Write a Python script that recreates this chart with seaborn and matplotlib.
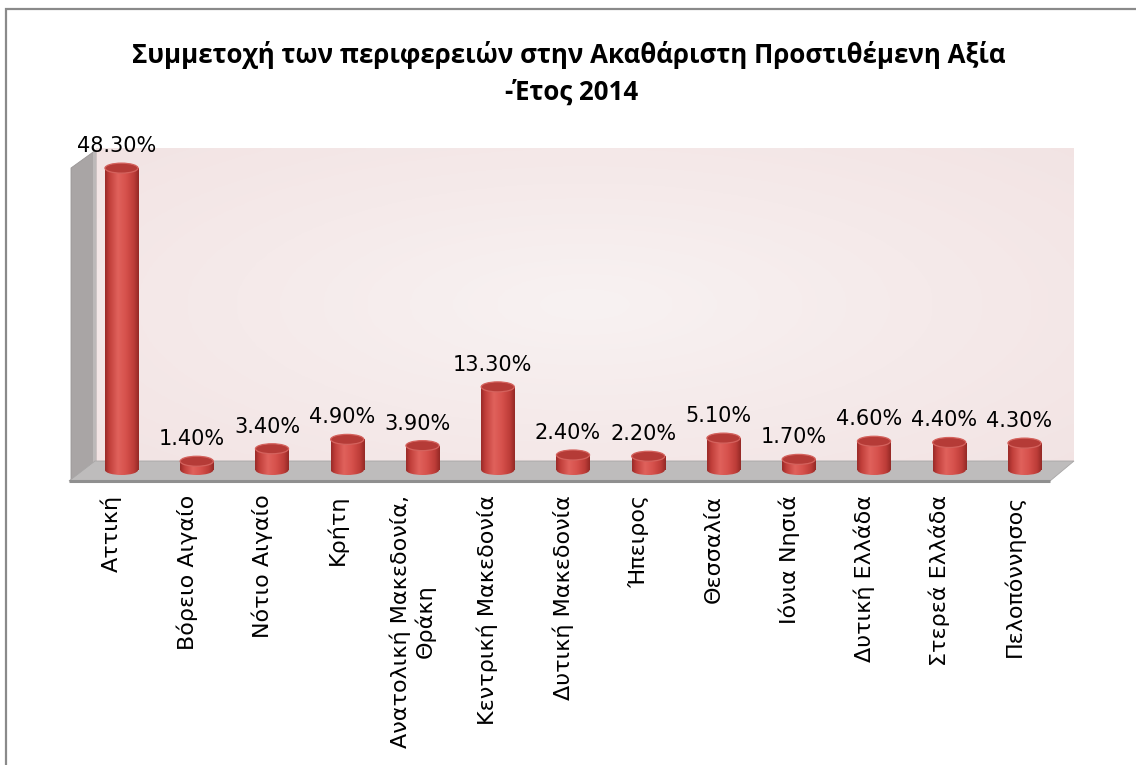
import numpy as np
import matplotlib
matplotlib.use("Agg")
import matplotlib.pyplot as plt
import seaborn as sns
from matplotlib.patches import Polygon, Ellipse, Rectangle
from matplotlib.colors import LinearSegmentedColormap
from matplotlib.transforms import ScaledTranslation

# ---- data -------------------------------------------------------------
title_line1 = "Συμμετοχή των περιφερειών στην Ακαθάριστη Προστιθέμενη Αξία"
title_line2 = "-Έτος 2014"
regions = [
    "Αττική", "Βόρειο Αιγαίο", "Νότιο Αιγαίο", "Κρήτη",
    "Ανατολική Μακεδονία,\nΘράκη", "Κεντρική Μακεδονία", "Δυτική Μακεδονία",
    "Ήπειρος", "Θεσσαλία", "Ιόνια Νησιά", "Δυτική Ελλάδα",
    "Στερεά Ελλάδα", "Πελοπόννησος",
]
shares = [48.3, 1.4, 3.4, 4.9, 3.9, 13.3, 2.4, 2.2, 5.1, 1.7, 4.6, 4.4, 4.3]
value_labels = [f"{v:.2f}%" for v in shares]

# ---- geometry (pixels, origin top-left) --------------------------------
W, H = 1136, 765
X0_PX, STEP_PX = 121.5, 75.25      # first category centre, category spacing
Y0_PX, PX_PER_UNIT = 470.0, 6.25   # baseline, pixels per percentage point
AX_L, AX_R, AX_T, AX_B = 60, 1085, 140, 485


def to_data(px, py):
    return ((px - X0_PX) / STEP_PX, (Y0_PX - py) / PX_PER_UNIT)


sns.set_style("white")
plt.rcParams["font.family"] = ["DejaVu Sans"]
plt.rcParams["text.color"] = "black"

fig = plt.figure(figsize=(W / 100, H / 100), dpi=100)
fig.patch.set_facecolor("white")
ax = fig.add_axes([AX_L / W, 1 - AX_B / H, (AX_R - AX_L) / W, (AX_B - AX_T) / H])
ax.patch.set_alpha(0)

# ---- bars --------------------------------------------------------------
sns.barplot(x=regions, y=shares, color="#d4504b", width=0.44, saturation=1,
            linewidth=0, ax=ax, zorder=2)
bars = list(ax.patches)

# ---- 3-D box: back wall, side wall, floor ------------------------------
wall_pts = [to_data(96, 148), to_data(1074, 461)]
gy, gx = np.mgrid[0:1:120j, 0:1:240j]
glow = np.sqrt(((gx - 0.5) / 0.55) ** 2 + ((gy - 0.5) / 0.6) ** 2)
wall_cmap = LinearSegmentedColormap.from_list("wall", ["#f8f2f2", "#f5eaea", "#f2e3e3"])
ax.imshow(glow, extent=[wall_pts[0][0], wall_pts[1][0], wall_pts[1][1], wall_pts[0][1]],
          cmap=wall_cmap, vmin=0, vmax=1.3, aspect="auto", zorder=0.2,
          interpolation="bilinear", clip_on=False)

side = Polygon([to_data(*p) for p in [(71, 168), (96, 150), (96, 461), (71, 481)]],
               closed=True, facecolor="#a9a5a5", edgecolor="#9a9696", lw=0.6,
               zorder=0.3, clip_on=False)
ax.add_patch(side)
side_edge = Polygon([to_data(*p) for p in [(93, 152), (96, 150), (96, 461), (93, 463)]],
                    closed=True, facecolor="#bdb9b9", edgecolor="none",
                    zorder=0.31, clip_on=False)
ax.add_patch(side_edge)

floor = Polygon([to_data(*p) for p in [(69, 481), (95, 461), (1074, 461), (1050, 481)]],
                closed=True, facecolor="#bebcbc", edgecolor="#a8a6a6", lw=0.6,
                zorder=0.4, clip_on=False)
ax.add_patch(floor)
fx0, fy0 = to_data(69, 481)
fx1, _ = to_data(1050, 481)
ax.plot([fx0, fx1], [fy0, fy0], color="#8f8f8f", lw=2.2, zorder=0.45,
        clip_on=False, solid_capstyle="butt")

# ---- cylinder shading on each bar ---------------------------------------
cyl_cmap = LinearSegmentedColormap.from_list(
    "cyl", [(0.0, "#9a2b28"), (0.12, "#c03e3a"), (0.38, "#e0625c"),
            (0.62, "#d6514c"), (0.86, "#bd3c38"), (1.0, "#942926")])
grad = np.linspace(0, 1, 96).reshape(1, -1)
ell_h = 10 / PX_PER_UNIT

for bar in bars:
    x, w, h = bar.get_x(), bar.get_width(), bar.get_height()
    cx = x + w / 2
    base = Ellipse((cx, 0), w, ell_h, facecolor="none", edgecolor="none", zorder=1.9)
    ax.add_patch(base)
    for clip in (bar, base):
        img = ax.imshow(grad, extent=[x, x + w, -ell_h / 2, h], cmap=cyl_cmap,
                        aspect="auto", zorder=2.1, interpolation="bicubic")
        img.set_clip_path(clip)
    ax.add_patch(Ellipse((cx, h), w, ell_h, facecolor="#b53b37",
                         edgecolor="#d4625d", lw=0.9, zorder=2.3))

# ---- value labels --------------------------------------------------------
for bar, lbl in zip(bars, value_labels):
    cx = bar.get_x() + bar.get_width() / 2
    ax.annotate(lbl, (cx, bar.get_height()), xytext=(-5, 22),
                textcoords="offset pixels", ha="center", va="center",
                fontsize=15, color="black", zorder=3)

# ---- axes ----------------------------------------------------------------
ax.set_xlim(to_data(AX_L, 0)[0], to_data(AX_R, 0)[0])
ax.set_ylim(to_data(0, AX_B)[1], to_data(0, AX_T)[1])
ax.set_xticks(range(len(regions)))
ax.set_xticklabels(regions, rotation=90, fontsize=16, ha="center", va="top",
                   multialignment="center", color="black")
ax.tick_params(axis="x", length=0, pad=7)
ax.set_yticks([])
ax.set_xlabel("")
ax.set_ylabel("")
for s in ax.spines.values():
    s.set_visible(False)
shift = ScaledTranslation(-10 / 100, 0, fig.dpi_scale_trans)
for t in ax.get_xticklabels():
    t.set_transform(t.get_transform() + shift)

# ---- title and frame -----------------------------------------------------
title_font = dict(fontsize=18.6, fontweight="bold", color="black",
                  family=["Open Sans", "DejaVu Sans"])
fig.text(569 / W, 1 - 55 / H, title_line1, ha="center", va="center", **title_font)
fig.text(572 / W, 1 - 92 / H, title_line2, ha="center", va="center", **title_font)
fig.add_artist(Rectangle((6 / W, -0.1), 1.2, 1.1 - 9 / H, transform=fig.transFigure,
                         fill=False, edgecolor="#8a8a8a", lw=1.6, clip_on=False))

fig.savefig("out.png", dpi=100)
